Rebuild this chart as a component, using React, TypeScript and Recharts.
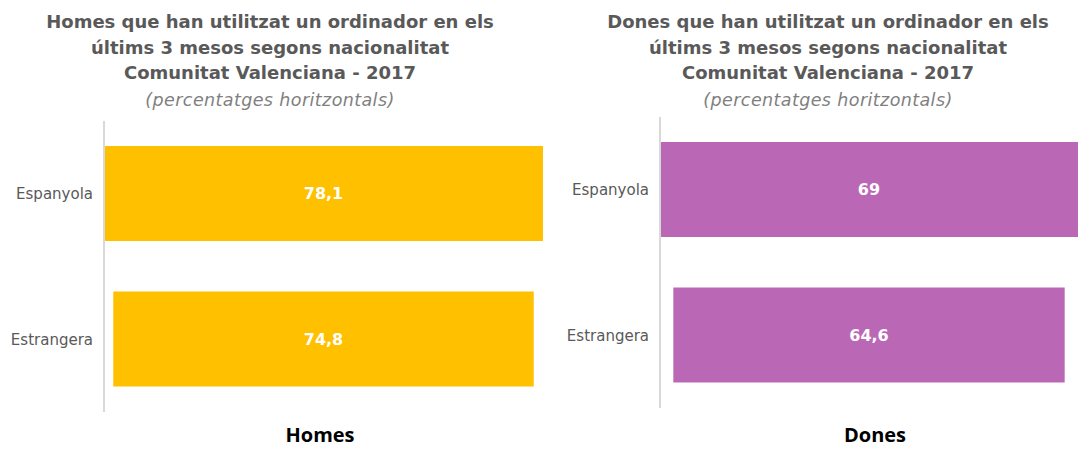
import { BarChart, Bar, XAxis, YAxis, LabelList } from 'recharts';

const categories = ['Espanyola', 'Estrangera'];
const homesValues = [78.1, 74.8];
const donesValues = [69, 64.6];

const titleLinesHomes = ['Homes que han utilitzat un ordinador en els', 'últims 3 mesos segons nacionalitat', 'Comunitat Valenciana - 2017'];
const titleLinesDones = ['Dones que han utilitzat un ordinador en els', 'últims 3 mesos segons nacionalitat', 'Comunitat Valenciana - 2017'];
const subtitle = '(percentatges horitzontals)';

const GREY = '#595959';
const FONT = '"DejaVu Sans", sans-serif';

// bars are centred: a transparent offset is stacked in front of each value
function buildRows(values: number[]) {
  const max = Math.max(...values);
  return categories.map((name, i) => ({
    name,
    offset: (max - values[i]) / 2,
    value: values[i],
  }));
}

const fmt = (v: any) => String(v).replace('.', ',');

function Title({ lines, center }: { lines: string[]; center: number }) {
  const box = { position: 'absolute' as const, left: center - 300, width: 600, textAlign: 'center' as const, whiteSpace: 'nowrap' as const };
  return (
    <>
      {lines.map((l, i) => (
        <div key={i} style={{ ...box, top: 9 + i * 25.5, fontFamily: FONT, fontWeight: 'bold', fontSize: 18, color: GREY, lineHeight: '26px' }}>
          {l}
        </div>
      ))}
      <div style={{ ...box, top: 87, fontFamily: FONT, fontStyle: 'italic', fontSize: 17.5, letterSpacing: 0.4, color: '#7f7f7f', lineHeight: '26px' }}>
        {subtitle}
      </div>
    </>
  );
}

interface PanelProps {
  values: number[];
  color: string;
  left: number;
  top: number;
  width: number;
  axisWidth: number;
  rightMargin: number;
}

function Panel({ values, color, left, top, width, axisWidth, rightMargin }: PanelProps) {
  const data = buildRows(values);
  const max = Math.max(...values);
  return (
    <div style={{ position: 'absolute', left, top }}>
      <BarChart
        width={width}
        height={301}
        data={data}
        layout="vertical"
        margin={{ top: 10, right: rightMargin, left: 0, bottom: 0 }}
      >
        <XAxis type="number" domain={[0, max]} hide />
        <YAxis
          dataKey="name"
          type="category"
          width={axisWidth}
          tickLine={false}
          tickSize={0}
          tickMargin={11}
          axisLine={{ stroke: '#d9d9d9', strokeWidth: 2 }}
          tick={{ fill: GREY, fontSize: 15, fontFamily: 'DejaVu Sans' }}
        />
        <Bar dataKey="offset" stackId="a" fill="transparent" isAnimationActive={false} barSize={95} />
        <Bar dataKey="value" stackId="a" fill={color} isAnimationActive={false} barSize={95}>
          <LabelList dataKey="value" position="center" formatter={fmt} fill="#ffffff" fontWeight="bold" fontSize={16} fontFamily="DejaVu Sans" />
        </Bar>
      </BarChart>
    </div>
  );
}

export default function App() {
  const footer = { position: 'absolute' as const, width: 200, top: 425, textAlign: 'center' as const, fontFamily: 'Open Sans', fontWeight: 'bold', fontSize: 20, lineHeight: '20px', color: '#000' };
  return (
    <div style={{ position: 'absolute', left: 0, top: 0, width: 1078, height: 449, background: '#fff', overflow: 'hidden' }}>
      <Title lines={titleLinesHomes} center={270} />
      <Title lines={titleLinesDones} center={828} />
      <Panel values={homesValues} color="#FFC000" left={0} top={111} width={560} axisWidth={104} rightMargin={17} />
      <Panel values={donesValues} color="#BA68B6" left={540} top={107} width={538} axisWidth={120} rightMargin={0} />
      <div style={{ ...footer, left: 220 }}>Homes</div>
      <div style={{ ...footer, left: 775 }}>Dones</div>
    </div>
  );
}
